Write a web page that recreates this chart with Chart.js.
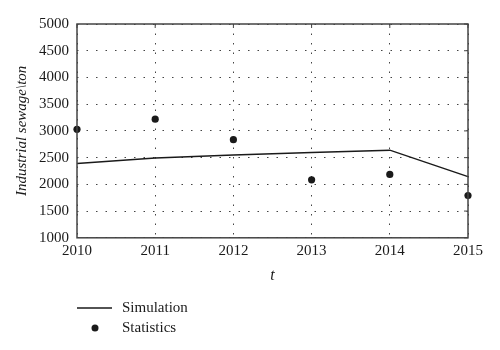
<!DOCTYPE html>
<html>
<head>
<meta charset="utf-8">
<script src="https://cdn.jsdelivr.net/npm/chart.js@4"></script>
<style>
	html, body { margin: 0; padding: 0; background: #fff; }
</style>
</head>
<body>
<canvas id="chart" width="500" height="350"></canvas>
<script>
const years = [2010, 2011, 2012, 2013, 2014, 2015]
const simulation = [2390, 2495, 2550, 2595, 2640, 2145]
const statistics = [3030, 3220, 2835, 2085, 2185, 1790]
const yTicks = [1000, 1500, 2000, 2500, 3000, 3500, 4000, 4500, 5000]

const serif = '"Liberation Serif", "DejaVu Serif", serif'
const ink = '#1a1a1a'

const toPoints = (vals) => vals.map((v, i) => ({ x: years[i], y: v }))

// frame, inward ticks on top/right, and the legend under the plot
const framePlugin = {
	id: 'frame',
	afterDraw(chart) {
		const ctx = chart.ctx
		const a = chart.chartArea
		const xs = chart.scales.x
		const ys = chart.scales.y
		ctx.save()
		ctx.strokeStyle = '#444'
		ctx.lineWidth = 1.5
		ctx.strokeRect(a.left, a.top, a.right - a.left, a.bottom - a.top)
		ctx.lineWidth = 1
		years.forEach((yr) => {
			const px = xs.getPixelForValue(yr)
			ctx.beginPath()
			ctx.moveTo(px, a.top)
			ctx.lineTo(px, a.top + 4)
			ctx.stroke()
		})
		yTicks.forEach((t) => {
			const py = ys.getPixelForValue(t)
			ctx.beginPath()
			ctx.moveTo(a.right, py)
			ctx.lineTo(a.right - 4, py)
			ctx.stroke()
		})

		// legend
		const lx = a.left
		const ly = 308
		ctx.strokeStyle = ink
		ctx.lineWidth = 1.5
		ctx.beginPath()
		ctx.moveTo(lx, ly)
		ctx.lineTo(lx + 35, ly)
		ctx.stroke()
		ctx.fillStyle = ink
		ctx.beginPath()
		ctx.arc(lx + 18, ly + 20, 3.5, 0, Math.PI * 2)
		ctx.fill()
		ctx.font = '15px ' + serif
		ctx.textBaseline = 'middle'
		ctx.textAlign = 'left'
		ctx.fillText('Simulation', lx + 45, ly)
		ctx.fillText('Statistics', lx + 45, ly + 20)
		ctx.restore()
	}
}

new Chart(document.getElementById('chart'), {
	type: 'line',
	data: {
		datasets: [
			{
				label: 'Simulation',
				data: toPoints(simulation),
				borderColor: ink,
				borderWidth: 1.5,
				pointRadius: 0,
				tension: 0,
				clip: false
			},
			{
				label: 'Statistics',
				data: toPoints(statistics),
				showLine: false,
				pointRadius: 3.6,
				pointBackgroundColor: ink,
				pointBorderColor: ink,
				pointBorderWidth: 0,
				clip: false
			}
		]
	},
	options: {
		responsive: false,
		animation: false,
		layout: { padding: { top: 24, right: 32, bottom: 65, left: 13 } },
		plugins: {
			legend: { display: false },
			tooltip: { enabled: false }
		},
		scales: {
			x: {
				type: 'linear',
				min: 2010,
				max: 2015,
				ticks: {
					stepSize: 1,
					padding: 4,
					color: ink,
					font: { family: serif, size: 15 },
					callback: (v) => String(v)
				},
				grid: {
					color: '#444',
					lineWidth: 1,
					drawTicks: false
				},
				border: { display: false, dash: [1.5, 8] },
				title: {
					display: true,
					text: 't',
					color: ink,
					padding: { top: 2, bottom: 0 },
					font: { family: serif, size: 16, style: 'italic' }
				}
			},
			y: {
				min: 1000,
				max: 5000,
				afterBuildTicks: (axis) => {
					axis.ticks = yTicks.map((v) => ({ value: v }))
				},
				ticks: {
					padding: 8,
					color: ink,
					font: { family: serif, size: 15 },
					callback: (v) => String(v)
				},
				grid: {
					color: '#444',
					lineWidth: 1,
					drawTicks: false
				},
				border: { display: false, dash: [1.5, 8] },
				title: {
					display: true,
					text: 'Industrial sewage\\ton',
					color: ink,
					padding: { top: 0, bottom: 0 },
					font: { family: serif, size: 15, style: 'italic' }
				}
			}
		}
	},
	plugins: [framePlugin]
})
</script>
</body>
</html>
